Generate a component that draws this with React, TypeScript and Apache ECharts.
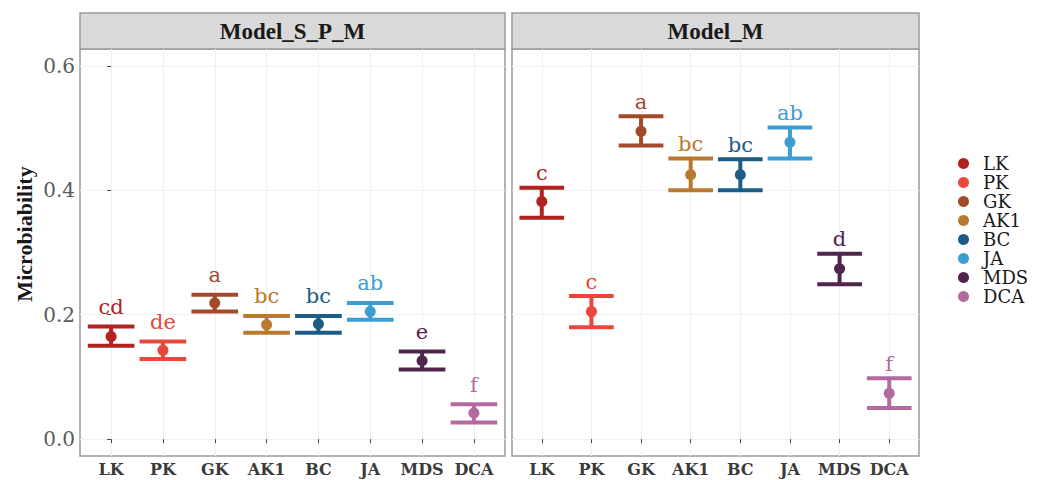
import React, { useEffect, useRef } from "react";
import * as echarts from "echarts";

const categories = ["LK", "PK", "GK", "AK1", "BC", "JA", "MDS", "DCA"];
const palette = ["#B2221F", "#E8473A", "#A34A2B", "#B97A30", "#1C5C85", "#3C9DD3", "#51244E", "#B26A9F"];
const facets = ["Model_S_P_M", "Model_M"];

const spmMean = [0.165, 0.143, 0.219, 0.184, 0.185, 0.205, 0.126, 0.042];
const spmLower = [0.150, 0.129, 0.205, 0.171, 0.171, 0.192, 0.112, 0.027];
const spmUpper = [0.181, 0.157, 0.232, 0.198, 0.198, 0.219, 0.141, 0.056];
const spmLetters = ["cd", "de", "a", "bc", "bc", "ab", "e", "f"];

const mMean = [0.382, 0.205, 0.495, 0.425, 0.425, 0.477, 0.274, 0.074];
const mLower = [0.356, 0.180, 0.472, 0.400, 0.400, 0.451, 0.249, 0.050];
const mUpper = [0.404, 0.230, 0.519, 0.451, 0.450, 0.501, 0.298, 0.098];
const mLetters = ["c", "c", "a", "bc", "bc", "ab", "d", "f"];

const yTicks = [0, 0.2, 0.4, 0.6];
const xTicks = [0, 1, 2, 3, 4, 5, 6, 7];

const SERIF = "'Liberation Serif', 'Times New Roman', serif";
const WIDE = "'DejaVu Serif', 'Liberation Serif', serif";

export default function App() {
  const ref = useRef<HTMLDivElement>(null);

  useEffect(() => {
    if (!ref.current) return;
    const chart = echarts.init(ref.current, null, { renderer: "svg" });

    const facetData = [
      { mean: spmMean, lower: spmLower, upper: spmUpper, letters: spmLetters, textOffset: 9 },
      { mean: mMean, lower: mLower, upper: mUpper, letters: mLetters, textOffset: 4 },
    ];
    const gridLeft = [80, 512];
    const gridWidth = [425, 407];
    const gridTop = 49;
    const gridHeight = 407;

    const grids = facets.map((_, f) => ({
      left: gridLeft[f],
      top: gridTop,
      width: gridWidth[f],
      height: gridHeight,
      show: true,
      backgroundColor: "#ffffff",
      borderColor: "#9a9a9a",
      borderWidth: 1.5,
    }));

    const xAxes = facets.map((_, f) => ({
      type: "value",
      gridIndex: f,
      min: -0.6,
      max: 7.6,
      axisLine: { show: false },
      axisTick: { show: true, length: 4, lineStyle: { color: "#444" }, customValues: xTicks },
      axisLabel: {
        customValues: xTicks,
        formatter: (v: number) => categories[Math.round(v)] ?? "",
        fontFamily: WIDE,
        fontWeight: "bold",
        fontSize: 16,
        color: "#3a3a3a",
        margin: 5,
      },
      splitLine: { show: true, lineStyle: { color: "#eef0f4", width: 1 } },
    }));

    const yAxes = facets.map((_, f) => ({
      type: "value",
      gridIndex: f,
      min: -0.027,
      max: 0.627,
      axisLine: { show: false },
      axisTick: { show: f === 0, length: 4, lineStyle: { color: "#444" }, customValues: yTicks },
      axisLabel: {
        show: f === 0,
        customValues: yTicks,
        formatter: (v: number) => v.toFixed(1),
        fontFamily: WIDE,
        fontSize: 20,
        color: "#5a5a5a",
        margin: 5,
      },
      splitLine: { show: true, lineStyle: { color: "#eef0f4", width: 1 } },
    }));

    const series: any[] = [];
    facetData.forEach((fd, f) => {
      series.push({
        type: "custom",
        xAxisIndex: f,
        yAxisIndex: f,
        z: 2,
        data: categories.map((_, i) => [i, fd.mean[i], fd.lower[i], fd.upper[i]]),
        renderItem: (params: any, api: any) => {
          const i = api.value(0);
          const lo = api.coord([i, api.value(2)]);
          const hi = api.coord([i, api.value(3)]);
          const hw = api.size([0.45, 0])[0];
          const c = palette[params.dataIndex];
          const lw = 4;
          return {
            type: "group",
            children: [
              { type: "line", shape: { x1: lo[0] - hw, y1: lo[1], x2: lo[0] + hw, y2: lo[1] }, style: { stroke: c, lineWidth: lw } },
              { type: "line", shape: { x1: hi[0] - hw, y1: hi[1], x2: hi[0] + hw, y2: hi[1] }, style: { stroke: c, lineWidth: lw } },
              { type: "line", shape: { x1: lo[0], y1: lo[1], x2: hi[0], y2: hi[1] }, style: { stroke: c, lineWidth: lw } },
              {
                type: "text",
                x: hi[0],
                y: hi[1] - fd.textOffset,
                style: {
                  text: fd.letters[params.dataIndex],
                  fill: c,
                  fontFamily: WIDE,
                  fontSize: 21,
                  align: "center",
                  verticalAlign: "bottom",
                },
              },
            ],
          };
        },
      });
      categories.forEach((cat, i) => {
        series.push({
          type: "scatter",
          name: cat,
          xAxisIndex: f,
          yAxisIndex: f,
          z: 3,
          symbol: "circle",
          symbolSize: 11,
          itemStyle: { color: palette[i], opacity: 1 },
          data: [[i, fd.mean[i]]],
        });
      });
    });

    const strips = facets.map((name, f) => ({
      type: "group",
      children: [
        {
          type: "rect",
          shape: { x: gridLeft[f], y: 13, width: gridWidth[f], height: 36 },
          style: { fill: "#d9d9d9", stroke: "#9a9a9a", lineWidth: 1.5 },
        },
        {
          type: "text",
          x: gridLeft[f] + gridWidth[f] / 2,
          y: 31,
          style: {
            text: name,
            fill: "#1a1a1a",
            fontFamily: SERIF,
            fontWeight: "bold",
            fontSize: 23,
            align: "center",
            verticalAlign: "middle",
          },
        },
      ],
    }));

    chart.setOption({
      animation: false,
      backgroundColor: "#ffffff",
      grid: grids,
      xAxis: xAxes,
      yAxis: yAxes,
      legend: {
        orient: "vertical",
        left: 953,
        top: 149,
        data: categories,
        icon: "circle",
        itemWidth: 29,
        itemHeight: 11,
        itemGap: 0,
        textStyle: { fontFamily: WIDE, fontSize: 18, color: "#1a1a1a", lineHeight: 19 },
      },
      graphic: [
        ...strips,
        {
          type: "text",
          x: 24,
          y: 234,
          rotation: Math.PI / 2,
          style: {
            text: "Microbiability",
            fill: "#1a1a1a",
            fontFamily: SERIF,
            fontWeight: "bold",
            fontSize: 22,
            align: "center",
            verticalAlign: "middle",
          },
        },
      ],
      series,
    });

    return () => chart.dispose();
  }, []);

  return (
    <div
      ref={ref}
      style={{ position: "absolute", left: 0, top: 0, width: 1045, height: 480 }}
    />
  );
}
